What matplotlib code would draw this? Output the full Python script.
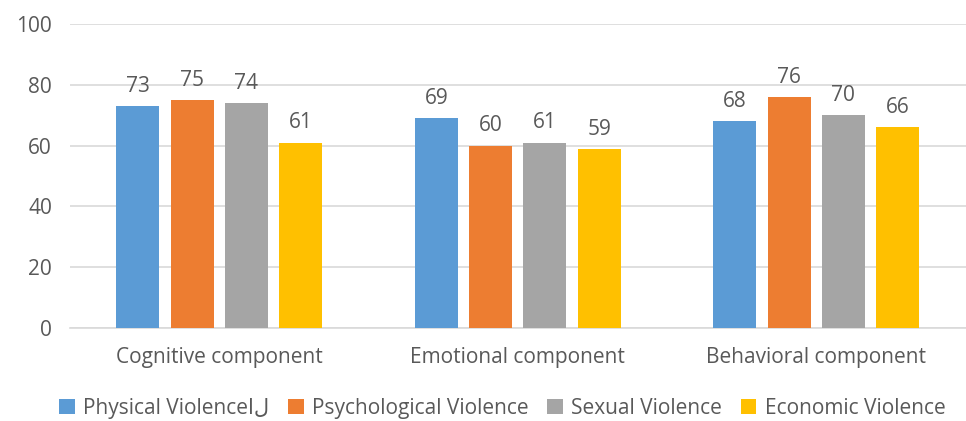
import numpy as np
import matplotlib.pyplot as plt

plt.rcParams['font.family'] = ['Open Sans', 'DejaVu Sans']

# chart data
categories = ["Cognitive component", "Emotional component", "Behavioral component"]
series_names = ["Physical Violence\u0627\u0644", "Psychological Violence", "Sexual Violence", "Economic Violence"]
physical = [73, 69, 68]
psychological = [75, 60, 76]
sexual = [74, 61, 70]
economic = [61, 59, 66]
y_ticks = [0, 20, 40, 60, 80, 100]

colors = ["#5B9BD5", "#ED7D31", "#A5A5A5", "#FFC000"]
text_col = "#595959"
fs = 15

fig = plt.figure(figsize=(9.66, 4.21), dpi=100)
ax = fig.add_axes([0.0725, 0.221, 0.927, 0.722])

x = np.arange(len(categories))
width = 0.144
step = 0.182
all_series = [physical, psychological, sexual, economic]
for i, vals in enumerate(all_series):
    pos = x + (i - 1.5) * step
    bars = ax.bar(pos, vals, width, color=colors[i], label=series_names[i], zorder=3)
    for b, v in zip(bars, vals):
        ax.text(b.get_x() + b.get_width() / 2, v + 3, str(v), ha='center', va='bottom',
                fontsize=fs, color=text_col)

ax.set_xlim(-0.5, 2.5)
ax.set_ylim(0, 100)
ax.set_yticks(y_ticks)
ax.set_xticks(x)
ax.set_xticklabels(categories)
ax.tick_params(axis='both', length=0, labelsize=fs, colors=text_col)
ax.tick_params(axis='y', pad=13)
ax.tick_params(axis='x', pad=14)
ax.grid(axis='y', color="#D9D9D9", linewidth=1.2, zorder=0)
for s in ['top', 'right', 'left']:
    ax.spines[s].set_visible(False)
ax.spines['bottom'].set_color("#D9D9D9")
ax.spines['bottom'].set_linewidth(1.2)

fig.legend(loc='center', bbox_to_anchor=(0.52, 0.03), ncol=4, frameon=False,
           fontsize=fs, labelcolor=text_col, handlelength=0.75, handleheight=0.75,
           handletextpad=0.4, columnspacing=0.9)

fig.savefig("out.png", dpi=100)
